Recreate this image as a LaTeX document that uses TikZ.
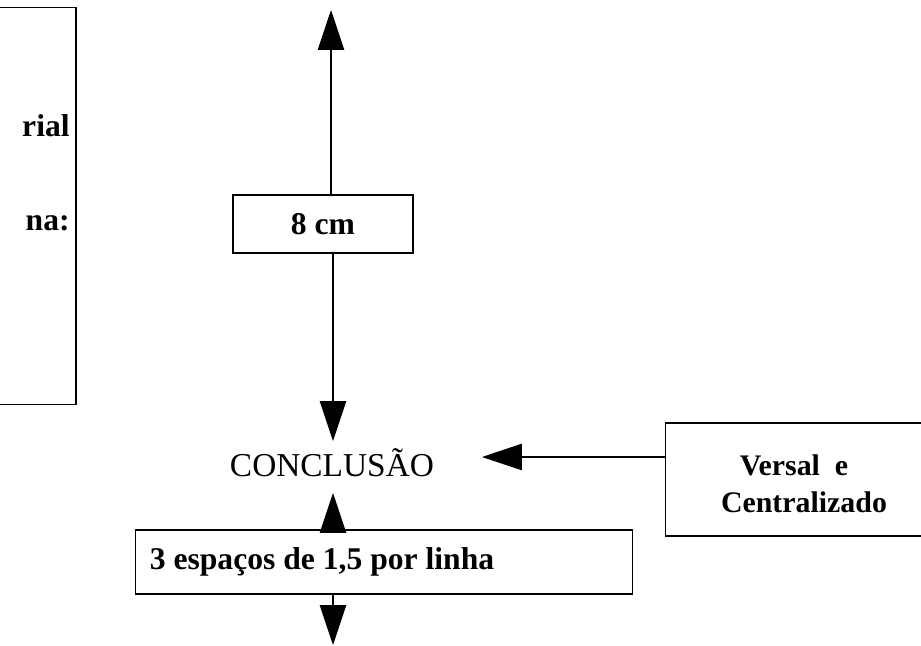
\documentclass[tikz,border=0pt]{standalone}
\usepackage{fontspec}
\setmainfont{Liberation Serif}
\usepackage{tikz}
\usetikzlibrary{arrows.meta,positioning}

\begin{document}
\begin{tikzpicture}[
    x=0.02cm, y=-0.02cm,
    every node/.style={font=\fontsize{19}{22}\selectfont},
    caixa/.style={draw, line width=0.6pt, inner sep=0pt, font=\fontsize{18}{21}\selectfont\bfseries},
    negrito/.style={font=\fontsize{18}{21}\selectfont\bfseries},
    seta/.style={-{Triangle[length=0.8cm, width=0.53cm]}, line width=0.6pt},
]
\useasboundingbox (0,0) rectangle (921,646);
\clip (0,0) rectangle (921,646);
\node [caixa, minimum width=5.52cm, minimum height=7.96cm] (regras) at (-62,206) {};
\node [negrito, anchor=base east, inner sep=0pt] (regras1) at (70,136) {rial};
\node [negrito, anchor=base east, inner sep=0pt] (regras2) at (70,230) {na:};
\node [caixa, minimum width=3.6cm, minimum height=1.16cm] (medida) at (323,224) {8 cm};
\node [anchor=base] (titulo) at (332,476) {CONCLUSÃO};
\node [caixa, anchor=west, minimum width=9.94cm, minimum height=1.28cm] (espacos) at (135,562) {};
\node [negrito] (espacostxt) at (322,562) {3 espaços de 1,5 por linha};
\node [caixa, align=center, minimum width=5.6cm, minimum height=2.26cm,
       font=\fontsize{17}{21}\selectfont\bfseries] (versal) at (805,479.5) {};
\node [align=center, font=\fontsize{17}{21}\selectfont\bfseries] (versaltxt) at (804,484) {Versal~ e\hspace*{0.4cm}\\Centralizado};
\coordinate (topo) at (331,10);
\coordinate (alvo1) at (333,441);
\coordinate (alvo2) at (333,493);
\coordinate (alvo3) at (482,457);
\coordinate (fundo) at (333,645);
\draw [seta] (topo |- medida.north) -- (topo);
\draw [seta] (alvo1 |- medida.south) -- (alvo1);
\draw [seta] (alvo2 |- espacos.north) -- (alvo2);
\draw [seta] (fundo |- espacos.south) -- (fundo);
\draw [seta] (versal.west |- alvo3) -- (alvo3);
\end{tikzpicture}
\end{document}
